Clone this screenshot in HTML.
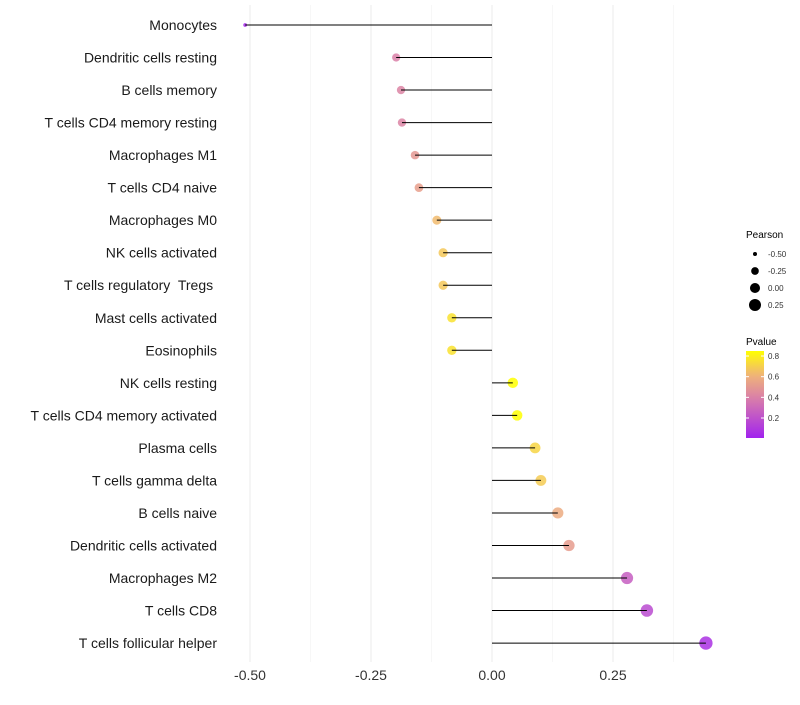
<!DOCTYPE html>
<html><head><meta charset="utf-8"><style>
body{margin:0;background:#fff;font-family:"Liberation Sans",sans-serif}
</style></head><body>
<svg id="c" width="800" height="700" xmlns="http://www.w3.org/2000/svg"></svg>
<script>
const categories=["Monocytes","Dendritic cells resting","B cells memory","T cells CD4 memory resting","Macrophages M1","T cells CD4 naive","Macrophages M0","NK cells activated","T cells regulatory  Tregs ","Mast cells activated","Eosinophils","NK cells resting","T cells CD4 memory activated","Plasma cells","T cells gamma delta","B cells naive","Dendritic cells activated","Macrophages M2","T cells CD8","T cells follicular helper"];
const pearson=[-0.51,-0.198,-0.188,-0.186,-0.159,-0.151,-0.114,-0.101,-0.101,-0.083,-0.083,0.043,0.052,0.089,0.101,0.136,0.159,0.279,0.320,0.442];
const pvalue=[0.03,0.40,0.42,0.42,0.50,0.53,0.64,0.68,0.68,0.76,0.76,0.85,0.85,0.72,0.69,0.58,0.52,0.26,0.18,0.07];
const xTicks=[-0.5,-0.25,0,0.25];
const xTickLabels=["-0.50","-0.25","0.00","0.25"];
const sizeLegend=[-0.5,-0.25,0,0.25];
const colorTicks=[0.2,0.4,0.6,0.8];
const svg=document.getElementById('c');const NS="http://www.w3.org/2000/svg";
function mk(t,a,p){const e=document.createElementNS(NS,t);for(const k in a)e.setAttribute(k,a[k]);(p||svg).appendChild(e);return e;}
const x=v=>492+v*484;
const y=i=>25+i*32.53;
const r=v=>Math.sqrt(Math.max(1,4+42.67*(v+0.5)));
function col(p){const stops=[[0,[160,32,240]],[0.4,[218,128,168]],[0.62,[240,180,120]],[0.85,[255,255,0]]];
 p=Math.max(0,Math.min(0.85,p));for(let k=0;k<stops.length-1;k++){const a=stops[k],b=stops[k+1];if(p<=b[0]){const t=(p-a[0])/(b[0]-a[0]);return `rgb(${a[1].map((c,j)=>Math.round(c+(b[1][j]-c)*t)).join(',')})`;}}return 'rgb(255,255,0)';}
[-0.375,-0.125,0.125,0.375].forEach(v=>{const g=mk('line',{x1:x(v),x2:x(v),y1:5,y2:662,stroke:'#f2f2f2','stroke-width':0.6});});
xTicks.forEach((v,i)=>{const g=mk('line',{x1:x(v),x2:x(v),y1:5,y2:662,stroke:'#ebebeb','stroke-width':1});
 const t=mk('text',{x:x(v),y:680,'text-anchor':'middle','font-size':14,fill:'#333'});t.textContent=xTickLabels[i];});
categories.forEach((c,i)=>{const t=mk('text',{x:217,y:y(i)+5,'text-anchor':'end','font-size':14,fill:'#1a1a1a'});t.style.whiteSpace='pre';t.textContent=c;
 const d=mk('circle',{cx:x(pearson[i]),cy:y(i),r:r(pearson[i]),fill:col(pvalue[i]),'fill-opacity':0.85});
 const l=mk('line',{x1:x(0),x2:x(pearson[i]),y1:y(i),y2:y(i),stroke:'#000','stroke-width':1});});
let t=mk('text',{x:746,y:238,'font-size':10,fill:'#000'});t.textContent='Pearson';
sizeLegend.forEach((v,i)=>{const yy=254+i*17;const d=mk('circle',{cx:755,cy:yy,r:r(v),fill:'#000'});
 const tt=mk('text',{x:768,y:yy+3,'font-size':8,fill:'#333'});tt.textContent=v.toFixed(2);});
t=mk('text',{x:746,y:345,'font-size':10,fill:'#000'});t.textContent='Pvalue';
const defs=mk('defs',{});const lg=mk('linearGradient',{id:'g',x1:0,y1:1,x2:0,y2:0},defs);
for(let k=0;k<=10;k++){const p=0.01+k*0.084;mk('stop',{offset:k/10,'stop-color':col(p)},lg);}
const bar=mk('rect',{x:746,y:351,width:18,height:87,fill:'url(#g)'});
const cy=p=>418-(p-0.2)*103.3;
colorTicks.forEach(p=>{mk('line',{x1:746,x2:749,y1:cy(p),y2:cy(p),stroke:'#fff'});mk('line',{x1:761,x2:764,y1:cy(p),y2:cy(p),stroke:'#fff'});
 const tt=mk('text',{x:768,y:cy(p)+3,'font-size':8,fill:'#333'});tt.textContent=p.toFixed(1);});
</script>
</body></html>
